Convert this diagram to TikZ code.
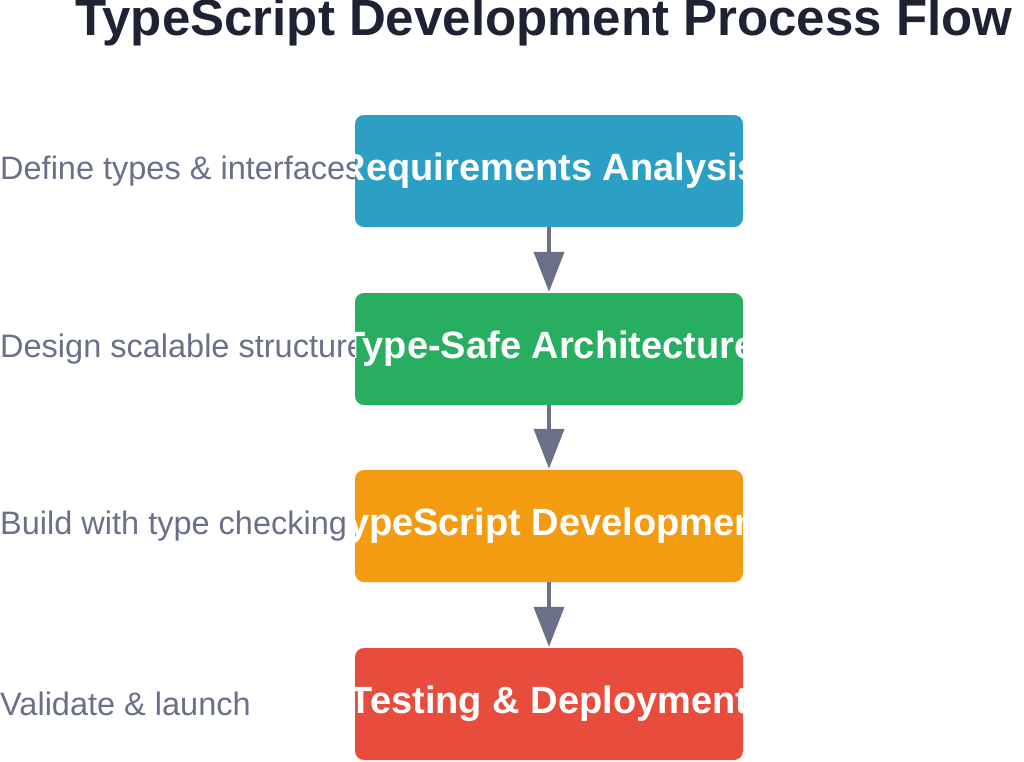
\documentclass[tikz,border=0pt]{standalone}
\usepackage{fontspec}
\setmainfont{Liberation Sans}
\usetikzlibrary{arrows.meta}
\definecolor{cb}{HTML}{2C9FC5}
\definecolor{cg}{HTML}{27AE60}
\definecolor{co}{HTML}{F39C12}
\definecolor{cr}{HTML}{E74C3C}
\definecolor{ca}{HTML}{6B7089}
\definecolor{ct}{HTML}{1F2233}
\tikzset{
  stagebox/.style={fill=#1, rounded corners=9pt, minimum width=388pt, minimum height=112pt, inner sep=0pt, draw=none},
  stagetext/.style={text=white, font=\fontsize{38}{42}\selectfont\bfseries, inner sep=0pt},
  sidelabel/.style={text=ca, font=\fontsize{32.5}{36}\selectfont, anchor=west, inner sep=0pt},
  flowarrow/.style={draw=ca, line width=4pt, -{Triangle[length=40pt,width=30pt]}, shorten >=1pt}
}
\begin{document}
\begin{tikzpicture}[x=1pt,y=-1pt]
\useasboundingbox (0,0) rectangle (1024,761);
\begin{scope}
\clip (0,0) rectangle (1024,761);
\node[font=\fontsize{51}{55}\selectfont\bfseries, text=ct, anchor=west, inner sep=0pt] (title) at (75,22) {TypeScript Development Process Flow};
\end{scope}
\node[sidelabel] (l1) at (0,171) {Define types \& interfaces};
\node[sidelabel] (l2) at (0,349) {Design scalable structure};
\node[sidelabel] (l3) at (0,526) {Build with type checking};
\node[sidelabel] (l4) at (0,704) {Validate \& launch};
\foreach \n/\c/\y/\t in {b1/cb/171/Requirements Analysis, b2/cg/349/Type-Safe Architecture, b3/co/526/TypeScript Development, b4/cr/704/Testing \& Deployment}{
  \node[stagebox=\c] (\n) at (549,\y) {};
  \begin{scope}
    \clip[rounded corners=9pt] (355,\y-56) rectangle (743,\y+56);
    \node[stagetext] (\n t) at (549,\y) {\t};
  \end{scope}
}
\draw[flowarrow] (b1.south) -- (b2.north);
\draw[flowarrow] (b2.south) -- (b3.north);
\draw[flowarrow] (b3.south) -- (b4.north);
\end{tikzpicture}
\end{document}
